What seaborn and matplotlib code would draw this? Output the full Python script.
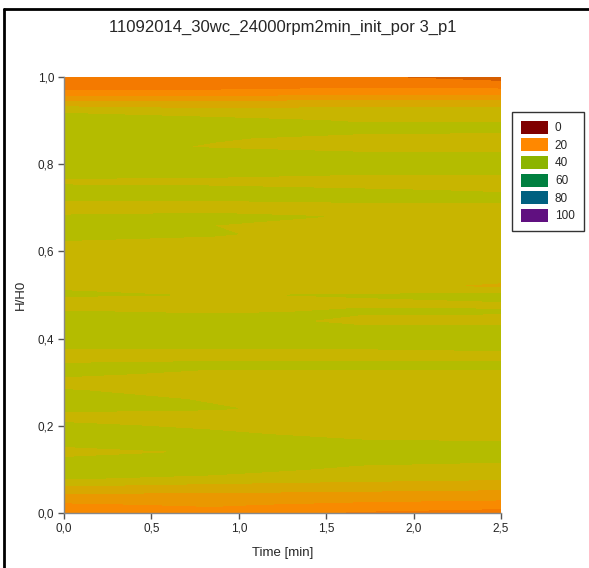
import numpy as np
import matplotlib
matplotlib.use("Agg")
import matplotlib.pyplot as plt
from matplotlib.patches import Patch
from matplotlib.lines import Line2D
from matplotlib.ticker import FuncFormatter
import seaborn as sns

# time columns [min] and relative height samples
times = [0.0, 0.85, 1.7, 2.5]
h_rel = np.round(np.arange(0, 1.0001, 0.02), 2)

# profiles, bottom (H/H0=0) to top (H/H0=1)
por_t0 = [21, 22, 25, 29, 34, 36, 35, 31, 35, 36, 35, 31, 35, 36, 34, 31, 35,
          34, 31, 34, 36, 36, 36, 34, 31, 34, 33, 31, 31, 31, 31, 33, 35, 35,
          34, 31, 34, 36, 32, 36, 36, 36, 36, 36, 36, 36, 33, 27, 21, 18, 18]
por_t1 = [21, 23, 25, 28, 32, 36, 36, 34, 36, 35, 32, 31, 34, 33, 31, 31, 32,
          35, 31, 34, 36, 36, 36, 33, 31, 33.3, 32, 31, 31, 31, 31, 32, 34, 33.5,
          35, 31, 34, 35, 32, 35, 36, 36, 33, 34, 36, 35, 31, 27, 21, 18, 18]
por_t2 = [19, 21.5, 25, 27, 31, 32, 35, 36, 35, 31, 31, 31, 31, 31, 31, 31, 32,
          35, 31, 34, 36, 35, 32, 34, 33, 33.7, 31, 31, 31, 31, 31, 31, 31, 31,
          33, 31, 35, 34, 31, 34, 36, 35, 31, 32, 35, 33, 31, 28, 22, 18.5, 15.5]
por_t3 = [18, 21, 24, 27, 30, 31, 34, 36, 34, 31, 31, 31, 31, 31, 31, 31, 32,
          35, 31, 35, 36, 35, 32, 33.8, 33, 35, 28.5, 31, 31, 31, 31, 31, 31, 31,
          31, 31, 35, 33, 31, 34, 36, 35, 31, 31, 35, 33, 31, 28, 22, 18, 12]

legend_values = [0, 20, 40, 60, 80, 100]
legend_colors = ["#800000", "#FF8800", "#8CB400", "#008040", "#006080", "#601080"]

title = "11092014_30wc_24000rpm2min_init_por 3_p1"

sns.set_theme(style="ticks")
plt.rcParams["font.family"] = ["Liberation Sans", "DejaVu Sans"]

Z = np.column_stack([por_t0, por_t1, por_t2, por_t3])
T, H = np.meshgrid(times, h_rel)

levels = [0, 15, 19.5, 22.5, 26, 29.5, 33.5, 40, 100]
band_colors = ["#D65E00", "#F47A00", "#F88A00", "#EA9800", "#D8A800",
               "#C8B500", "#B4BC00", "#8CB400"]

fig = plt.figure(figsize=(5.89, 5.68), dpi=100)
ax = fig.add_axes([0.1087, 0.0968, 0.7419, 0.7676])
ax.contourf(T, H, Z, levels=levels, colors=band_colors, antialiased=False)

ax.set_xlim(0, 2.5)
ax.set_ylim(0, 1)
ax.set_xticks([0, 0.5, 1.0, 1.5, 2.0, 2.5])
ax.set_yticks([0, 0.2, 0.4, 0.6, 0.8, 1.0])
comma = FuncFormatter(lambda v, _: f"{v:.1f}".replace(".", ","))
ax.xaxis.set_major_formatter(comma)
ax.yaxis.set_major_formatter(comma)
ax.tick_params(labelsize=8.5, length=4, width=1, color="#555555", pad=3)
for s in ["top", "right"]:
    ax.spines[s].set_visible(False)
for s in ["left", "bottom"]:
    ax.spines[s].set_color("#888888")
    ax.spines[s].set_linewidth(1)

ax.set_xlabel("Time [min]", fontsize=9.5, labelpad=9)
ax.set_ylabel("H/H0", fontsize=9.5, labelpad=8)
fig.text(0.48, 0.951, title, ha="center", va="center", fontsize=12)

handles = [Patch(facecolor=c, edgecolor="none") for c in legend_colors]
leg = fig.legend(handles, [str(v) for v in legend_values], loc="upper left",
                 bbox_to_anchor=(0.869, 0.803), fontsize=8.5, frameon=True,
                 fancybox=False, edgecolor="black", handlelength=2.3,
                 handleheight=1.3, labelspacing=0.36, handletextpad=0.6,
                 borderpad=0.75, borderaxespad=0)
leg.get_frame().set_linewidth(1)

# outer frame of the figure
fig.add_artist(Line2D([0.007, 0.007], [0, 0.985], transform=fig.transFigure,
                      color="black", lw=2))
fig.add_artist(Line2D([0.007, 1], [0.985, 0.985], transform=fig.transFigure,
                      color="black", lw=2))

fig.savefig("out.png", dpi=100)
